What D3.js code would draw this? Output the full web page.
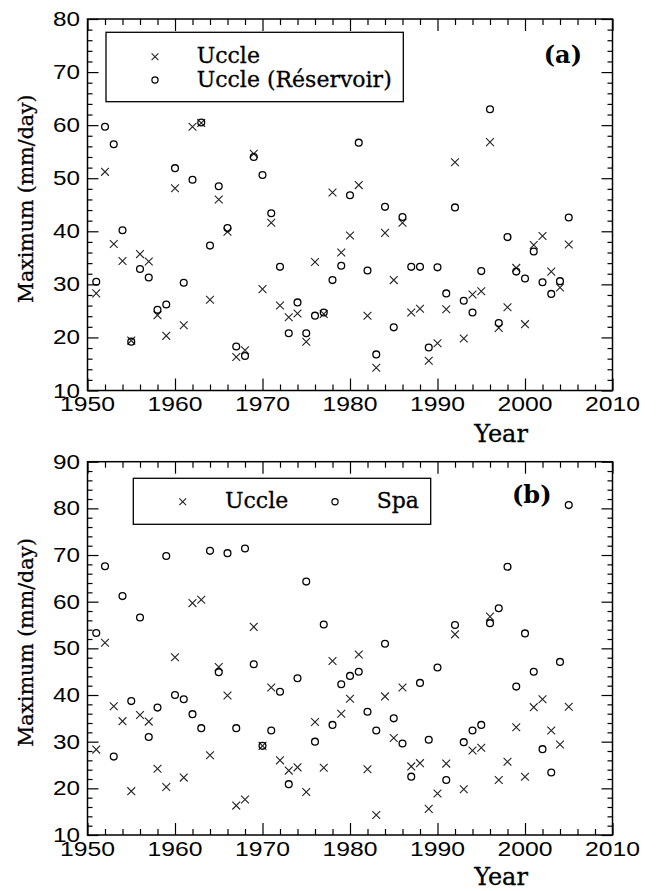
<!DOCTYPE html>
<html><head><meta charset="utf-8">
<script src="https://cdn.jsdelivr.net/npm/d3@7/dist/d3.min.js"></script>
<style>body{margin:0;background:#fff}</style>
</head><body>
<svg id="c" width="656" height="891"></svg>
<script>
const years = [1951,1952,1953,1954,1955,1956,1957,1958,1959,1960,1961,1962,1963,1964,1965,1966,1967,1968,1969,1970,
  1971,1972,1973,1974,1975,1976,1977,1978,1979,1980,1981,1982,1983,1984,1985,1986,1987,1988,1989,1990,
  1991,1992,1993,1994,1995,1996,1997,1998,1999,2000,2001,2002,2003,2004,2005];
const uccle = [28.3,51.2,37.6,34.4,19.4,35.7,34.3,24.2,20.3,48.1,22.3,59.7,60.4,27.1,46.0,39.9,16.3,17.6,54.6,29.1,
  41.6,26.0,23.8,24.5,19.2,34.2,24.4,47.3,36.0,39.2,48.7,24.1,14.3,39.7,30.8,41.6,24.7,25.4,15.6,18.9,
  25.3,53.0,19.8,28.1,28.7,56.8,21.8,25.7,33.1,22.5,37.4,39.1,32.4,29.4,37.5];
const reservoir = [30.5,59.7,56.4,40.2,19.2,32.9,31.3,25.2,26.2,51.9,30.3,49.7,60.5,37.3,48.5,40.6,18.3,16.5,54.0,50.6,
  43.4,33.3,20.8,26.6,20.8,24.1,24.7,30.8,33.5,46.8,56.7,32.6,16.8,44.6,21.9,42.7,33.3,33.3,18.1,33.2,
  28.3,44.5,26.9,24.7,32.5,63.0,22.7,38.9,32.4,31.1,36.2,30.4,28.2,30.6,42.6];
const spa = [53.3,67.6,26.8,61.2,38.7,56.6,31.0,37.3,69.8,40.0,39.1,35.9,32.9,70.9,44.9,70.4,32.9,71.4,46.6,29.1,
  32.4,40.7,20.9,43.6,64.3,30.0,55.1,33.6,42.3,44.1,45.0,36.4,32.4,51.0,35.0,29.6,22.5,42.6,30.4,45.9,
  21.8,55.0,29.9,32.4,33.6,55.4,58.6,67.5,41.8,53.2,45.0,28.4,23.4,47.1,80.7];
const xTickLabels = [1950,1960,1970,1980,1990,2000,2010];
const yTickLabelsA = [10,20,30,40,50,60,70,80];
const yTickLabelsB = [10,20,30,40,50,60,70,80,90];
const legendA = ["Uccle", "Uccle (Réservoir)"];
const legendB = ["Uccle", "Spa"];

const svg = d3.select("#c");
const SANS = "'Liberation Sans', Arial, sans-serif";
const SERIF = "'DejaVu Serif', serif";

const x = d3.scaleLinear().domain([1950, 2010]).range([87.5, 612.5]);

function crossPath(cx, cy, h) {
  return `M${cx-h},${cy-h}L${cx+h},${cy+h}M${cx-h},${cy+h}L${cx+h},${cy-h}`;
}
function serifText(sel) {
  return sel.attr("font-family", SERIF).attr("stroke", "#000").attr("stroke-width", 0.3).attr("fill", "#000");
}

function panel(y, yLabels, s2, yearBase) {
  const g = svg.append("g");
  const [y0, y1] = y.range();
  const [xl, xr] = x.range();
  const ymin = y.domain()[0], ymax = y.domain()[1];
  const majX = d3.range(1950, 2011, 10), minX = d3.range(1950, 2011, 2).filter(v => v % 10);
  const majY = d3.range(ymin, ymax + 1, 10), minY = d3.range(ymin, ymax + 1, 2).filter(v => v % 10);

  const mk = (axisFn, scale, vals, size, tr) => {
    const a = g.append("g").attr("transform", tr)
      .call(axisFn(scale).tickValues(vals).tickSize(size).tickSizeOuter(0).tickFormat(""));
    a.select(".domain").remove();
    a.selectAll("line").attr("stroke", "#000").attr("stroke-width", 1.2);
  };
  mk(d3.axisBottom, x, majX, -12, `translate(0,${y0})`);
  mk(d3.axisBottom, x, minX, -6, `translate(0,${y0})`);
  mk(d3.axisTop, x, majX, -12, `translate(0,${y1})`);
  mk(d3.axisTop, x, minX, -6, `translate(0,${y1})`);
  mk(d3.axisLeft, y, majY, -11, `translate(${xl},0)`);
  mk(d3.axisLeft, y, minY, -5, `translate(${xl},0)`);
  mk(d3.axisRight, y, majY, -11, `translate(${xr},0)`);
  mk(d3.axisRight, y, minY, -5, `translate(${xr},0)`);

  g.append("rect").attr("x", xl).attr("y", y1).attr("width", xr - xl).attr("height", y0 - y1)
    .attr("fill", "none").attr("stroke", "#000").attr("stroke-width", 1.5);

  g.selectAll(".xl").data(xTickLabels).enter().append("text")
    .attr("x", d => x(d)).attr("y", y0 + 20.7).attr("text-anchor", "middle")
    .attr("font-family", SANS).attr("font-size", 19.5)
    .attr("textLength", 55).attr("lengthAdjust", "spacingAndGlyphs").text(d => d);
  g.selectAll(".yl").data(yLabels).enter().append("text")
    .attr("x", 80).attr("y", d => y(d) + 7).attr("text-anchor", "end")
    .attr("font-family", SANS).attr("font-size", 19.5)
    .attr("textLength", 27).attr("lengthAdjust", "spacingAndGlyphs").text(d => d);

  serifText(g.append("text")).attr("x", 501).attr("y", yearBase).attr("text-anchor", "middle")
    .attr("font-size", 24).text("Year");
  serifText(g.append("text")).attr("transform", `translate(33,${(y0 + y1) / 2 - 6}) rotate(-90)`)
    .attr("text-anchor", "middle").attr("font-size", 20.5)
    .text("Maximum (mm/day)");

  const pts = g.append("g");
  pts.selectAll(".cx").data(years).enter().append("path")
    .attr("d", (d, i) => crossPath(x(d), y(uccle[i]), 3.9))
    .attr("stroke", "#222").attr("stroke-width", 1.1).attr("fill", "none");
  pts.selectAll(".ci").data(years).enter().append("circle")
    .attr("cx", d => x(d)).attr("cy", (d, i) => y(s2[i])).attr("r", 3.4)
    .attr("fill", "none").attr("stroke", "#000").attr("stroke-width", 1.3);
  return g;
}

const yA = d3.scaleLinear().domain([10, 80]).range([390.5, 19]);
const yB = d3.scaleLinear().domain([10, 90]).range([835, 461.7]);
const gA = panel(yA, yTickLabelsA, reservoir, 442);
const gB = panel(yB, yTickLabelsB, spa, 885);

gA.append("rect").attr("x", 106).attr("y", 32.3).attr("width", 297.3).attr("height", 69.4)
  .attr("fill", "#fff").attr("stroke", "#000").attr("stroke-width", 1.3);
gA.append("path").attr("d", crossPath(155, 56.7, 3.4)).attr("stroke", "#222").attr("stroke-width", 1.1);
gA.append("circle").attr("cx", 155).attr("cy", 80).attr("r", 3.1).attr("fill", "none").attr("stroke", "#000").attr("stroke-width", 1.2);
serifText(gA.selectAll(".lt").data(legendA).enter().append("text"))
  .attr("x", 196.7).attr("y", (d, i) => 63.3 + i * 23.4)
  .attr("font-size", 22).text(d => d);
serifText(gA.append("text")).attr("x", 582).attr("y", 63).attr("text-anchor", "end")
  .attr("font-size", 24).attr("font-weight", "bold").attr("stroke-width", 0).text("(a)");

gB.append("rect").attr("x", 133.3).attr("y", 478.3).attr("width", 297.4).attr("height", 46)
  .attr("fill", "#fff").attr("stroke", "#000").attr("stroke-width", 1.3);
gB.append("path").attr("d", crossPath(182.7, 501.7, 3.4)).attr("stroke", "#222").attr("stroke-width", 1.1);
gB.append("circle").attr("cx", 335).attr("cy", 501.7).attr("r", 3.1).attr("fill", "none").attr("stroke", "#000").attr("stroke-width", 1.2);
serifText(gB.selectAll(".lt").data(legendB).enter().append("text"))
  .attr("x", (d, i) => [225, 376.7][i]).attr("y", 508.3)
  .attr("font-size", 22).text(d => d);
serifText(gB.append("text")).attr("x", 512).attr("y", 503).attr("text-anchor", "start")
  .attr("font-size", 24).attr("font-weight", "bold").attr("stroke-width", 0).text("(b)");
</script>
</body></html>
